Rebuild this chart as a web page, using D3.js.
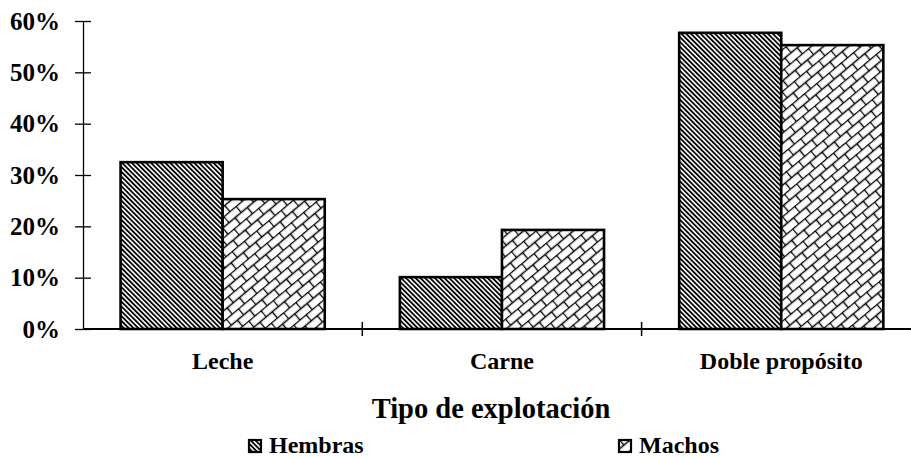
<!DOCTYPE html>
<html>
<head>
<meta charset="utf-8">
<script src="https://cdn.jsdelivr.net/npm/d3@7"></script>
<style>
  html, body { margin: 0; padding: 0; background: #fff; }
  svg { display: block; font-family: "Liberation Serif", "Times New Roman", serif; font-weight: bold; }
  svg text { font-family: "Liberation Serif", "Times New Roman", serif; font-weight: bold; }
</style>
</head>
<body>
<svg id="chart" width="911" height="458"></svg>
<script>
// Share of animals by production type and sex
const categories = ["Leche", "Carne", "Doble propósito"];
const seriesNames = ["Hembras", "Machos"];
const hembras = [32.5, 10.1, 57.7];
const machos = [25.3, 19.3, 55.3];
const yTicks = [0, 10, 20, 30, 40, 50, 60];

const svg = d3.select("#chart");
const margin = { left: 83, top: 21, bottom: 329 };
const bandStep = 279.3;
const plotRight = 911;

const defs = svg.append("defs");

// Dense diagonal stripes
const pH = defs.append("pattern")
  .attr("id", "pat-hembras")
  .attr("patternUnits", "userSpaceOnUse")
  .attr("width", 3.4).attr("height", 10)
  .attr("patternTransform", "rotate(-45)");
pH.append("rect").attr("width", 3.4).attr("height", 10).attr("fill", "#fff");
pH.append("rect").attr("width", 1.8).attr("height", 10).attr("fill", "#000");

// Diagonal brick
const bw = 16, bh = 8;
const pM = defs.append("pattern")
  .attr("id", "pat-machos")
  .attr("patternUnits", "userSpaceOnUse")
  .attr("width", bw).attr("height", bh * 2)
  .attr("patternTransform", "rotate(-40)");
pM.append("rect").attr("width", bw).attr("height", bh * 2).attr("fill", "#fff");
const brickPath = `M0,0.5H${bw}M0,${bh + 0.5}H${bw}M0.5,0V${bh}M${bw / 2 + 0.5},${bh}V${bh * 2}`;
pM.append("path").attr("d", brickPath).attr("stroke", "#000").attr("stroke-width", 1.4).attr("fill", "none");

const x0 = d3.scaleBand()
  .domain(categories)
  .range([margin.left, margin.left + bandStep * categories.length])
  .paddingInner(0).paddingOuter(0);

const x1 = d3.scaleBand()
  .domain(seriesNames)
  .range([0, x0.bandwidth()])
  .paddingOuter(0.368).paddingInner(0);

const y = d3.scaleLinear().domain([0, 60]).range([margin.bottom, margin.top]);

// Y axis
const yAxis = d3.axisLeft(y)
  .tickValues(yTicks)
  .tickFormat(d => d + "%")
  .tickSizeInner(8).tickSizeOuter(0).tickPadding(15);
const gy = svg.append("g").attr("transform", `translate(${margin.left},0)`).call(yAxis);
gy.attr("font-family", null);
gy.select(".domain").attr("stroke", "#000").attr("stroke-width", 1.3);
gy.selectAll(".tick line").attr("x2", 8).attr("x1", -8).attr("stroke", "#000").attr("stroke-width", 1.3);
gy.selectAll(".tick text").attr("font-size", 25).attr("fill", "#000").attr("dy", "0.33em");

// Bars
const data = categories.map((c, i) => ({ cat: c, vals: [hembras[i], machos[i]] }));
const fills = ["url(#pat-hembras)", "url(#pat-machos)"];
const groups = svg.append("g").selectAll("g")
  .data(data).join("g")
  .attr("transform", d => `translate(${x0(d.cat)},0)`);
groups.selectAll("rect")
  .data(d => d.vals.map((v, j) => ({ v, s: seriesNames[j], j })))
  .join("rect")
  .attr("x", d => x1(d.s))
  .attr("y", d => y(d.v))
  .attr("width", x1.bandwidth())
  .attr("height", d => y(0) - y(d.v))
  .attr("fill", d => fills[d.j])
  .attr("stroke", "#000")
  .attr("stroke-width", 2.6);

// X axis
const xAxis = d3.axisBottom(x0).tickSize(0).tickPadding(23);
const gx = svg.append("g").attr("transform", `translate(0,${margin.bottom})`).call(xAxis);
gx.attr("font-family", null);
gx.select(".domain").remove();
gx.append("line").attr("x1", margin.left).attr("x2", plotRight).attr("stroke", "#000").attr("stroke-width", 2);
gx.selectAll(".tick text").attr("font-size", 24).attr("fill", "#000");
// Category separator ticks
const seps = categories.slice(1).map(c => x0(c));
gx.selectAll("line.sep").data(seps).join("line")
  .attr("class", "sep")
  .attr("x1", d => d).attr("x2", d => d)
  .attr("y1", -7).attr("y2", 7)
  .attr("stroke", "#000").attr("stroke-width", 1.5);

// Axis title
svg.append("text")
  .attr("x", 491).attr("y", 418)
  .attr("text-anchor", "middle")
  .attr("font-size", 28.5)
  .text("Tipo de explotación");

// Legend
const legendX = [248, 618];
const lg = svg.append("g").selectAll("g").data(seriesNames).join("g")
  .attr("transform", (d, i) => `translate(${legendX[i]},439)`);
lg.append("rect")
  .attr("x", 1).attr("y", 1).attr("width", 12).attr("height", 12)
  .attr("fill", (d, i) => fills[i])
  .attr("stroke", "#000").attr("stroke-width", 2.2);
lg.append("text")
  .attr("x", 21).attr("y", 14)
  .attr("font-size", 24)
  .text(d => d);
</script>
</body>
</html>
